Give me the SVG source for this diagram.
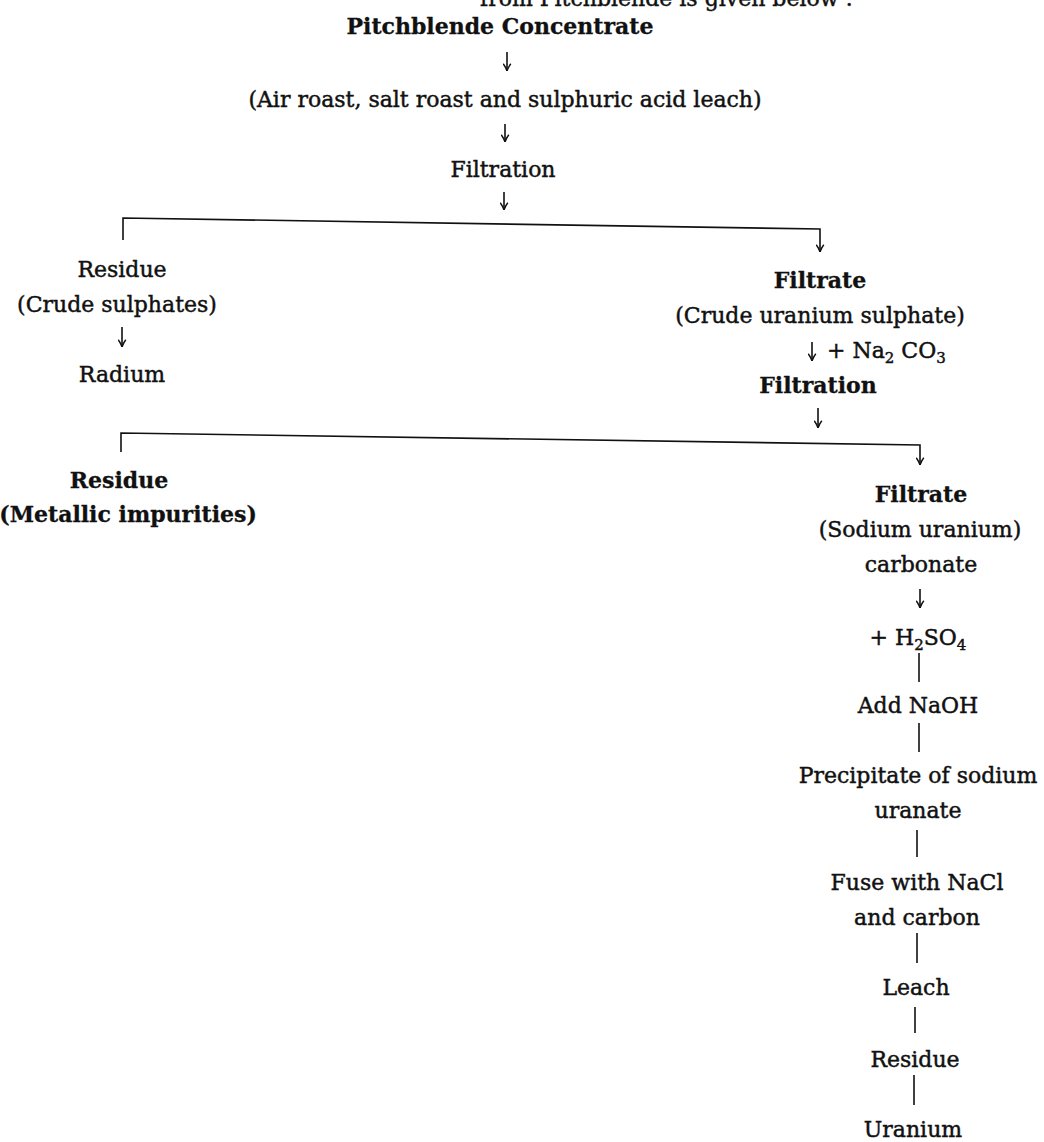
<svg xmlns="http://www.w3.org/2000/svg" width="1044" height="1142" viewBox="0 0 1044 1142">
<style>
.t{font-family:"DejaVu Serif","Liberation Serif",serif;font-size:22px;fill:#111;stroke:#111;stroke-width:0.45;text-anchor:middle}
.b{font-weight:bold;stroke-width:0.3}
.s{font-size:15px}
.c{stroke:#111;stroke-width:1.6;fill:none}
.a{marker-end:url(#ah)}
</style>
<defs>
<marker id="ah" viewBox="0 0 10 10" refX="9.5" refY="5" markerWidth="9" markerHeight="9" markerUnits="userSpaceOnUse" orient="auto">
<path d="M1.5,0.8 Q5,3.5 9.5,5 Q5,6.5 1.5,9.2" fill="none" stroke="#111" stroke-width="1.6"/>
</marker>
</defs>
<rect width="1044" height="1142" fill="#fff"/>
<g id="intro"><text class="t" x="853" y="6" style="text-anchor:end">from Pitchblende is given below :</text></g>
<g id="n-pitch"><text class="t b" x="500" y="34">Pitchblende Concentrate</text></g>
<g id="n-roast"><text class="t" x="505" y="107">(Air roast, salt roast and sulphuric acid leach)</text></g>
<g id="n-filtration1"><text class="t" x="503" y="177">Filtration</text></g>
<g id="n-residue1"><text class="t" x="122" y="277">Residue</text><text class="t" x="117" y="312">(Crude sulphates)</text></g>
<g id="n-radium"><text class="t" x="122" y="382">Radium</text></g>
<g id="n-filtrate1"><text class="t b" x="820" y="288">Filtrate</text><text class="t" x="820" y="323">(Crude uranium sulphate)</text></g>
<g id="n-filtration2"><text class="t b" x="818" y="393">Filtration</text></g>
<g id="n-residue2"><text class="t b" x="119" y="488">Residue</text><text class="t b" x="128" y="522">(Metallic impurities)</text></g>
<g id="n-filtrate2"><text class="t b" x="921" y="502">Filtrate</text><text class="t" x="920" y="537">(Sodium uranium)</text><text class="t" x="921" y="572">carbonate</text></g>
<g id="n-h2so4"><text class="t" x="918" y="645">+ H<tspan class="s" dy="5">2</tspan><tspan dy="-5">SO</tspan><tspan class="s" dy="5">4</tspan></text></g>
<g id="n-naoh"><text class="t" x="918" y="713">Add NaOH</text></g>
<g id="n-precip"><text class="t" x="918" y="783">Precipitate of sodium</text><text class="t" x="918" y="818">uranate</text></g>
<g id="n-fuse"><text class="t" x="917" y="890">Fuse with NaCl</text><text class="t" x="917" y="925">and carbon</text></g>
<g id="n-leach"><text class="t" x="916" y="995">Leach</text></g>
<g id="n-residue3"><text class="t" x="915" y="1067">Residue</text></g>
<g id="n-uranium"><text class="t" x="913" y="1137">Uranium</text></g>
<g id="connectors">
<line class="c a" x1="507" y1="52" x2="507" y2="71"/>
<line class="c a" x1="505" y1="124" x2="505" y2="142"/>
<line class="c a" x1="504" y1="192" x2="504" y2="210"/>
<polyline class="c a" points="123,240 123,218 820,229 820,252"/>
<line class="c a" x1="122" y1="327" x2="122" y2="347"/>
<line class="c a" x1="812" y1="342" x2="812" y2="361"/>
<text class="t" x="827" y="358" style="text-anchor:start">+ Na<tspan class="s" dy="5">2</tspan><tspan dy="-5"> CO</tspan><tspan class="s" dy="5">3</tspan></text>
<line class="c a" x1="818" y1="408" x2="818" y2="428"/>
<polyline class="c a" points="121,452 121,433 920,445 920,465"/>
<line class="c a" x1="920" y1="589" x2="920" y2="608"/>
<line class="c" x1="919" y1="653" x2="919" y2="682"/>
<line class="c" x1="919" y1="723" x2="919" y2="752"/>
<line class="c" x1="917" y1="830" x2="917" y2="857"/>
<line class="c" x1="917" y1="933" x2="917" y2="963"/>
<line class="c" x1="915" y1="1007" x2="915" y2="1033"/>
<line class="c" x1="914" y1="1075" x2="914" y2="1105"/>
</g>
</svg>
